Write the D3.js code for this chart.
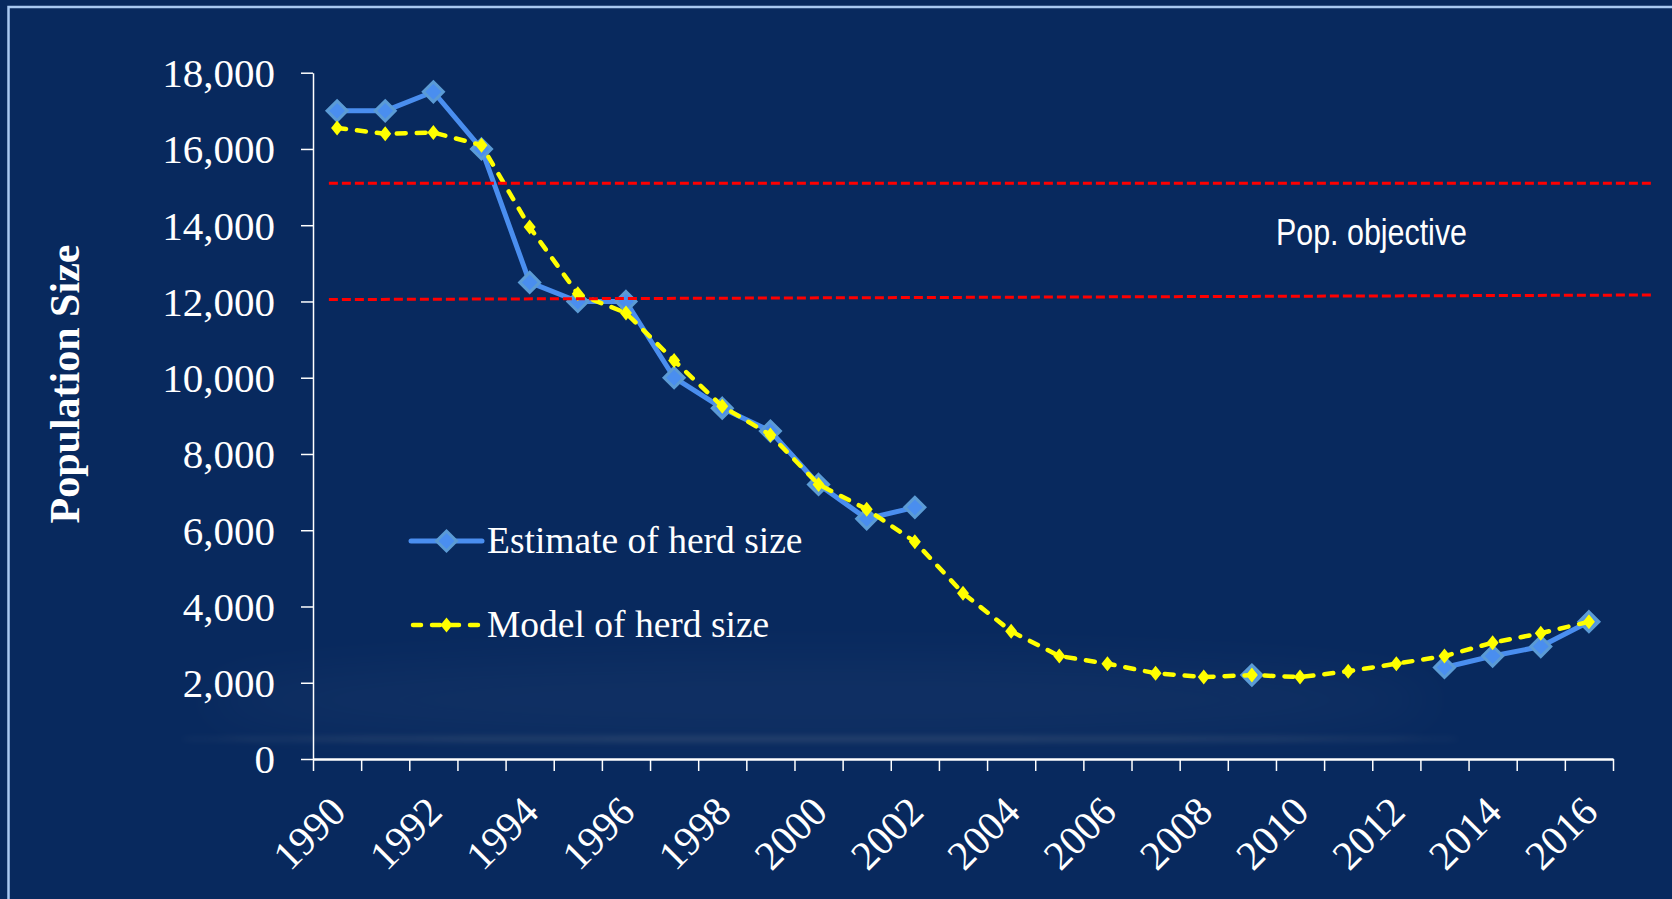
<!DOCTYPE html>
<html>
<head>
<meta charset="utf-8">
<script src="https://cdn.jsdelivr.net/npm/d3@7"></script>
<style>
  body { margin: 0; background: #08295e; }
  svg { display: block; }
</style>
</head>
<body>
<div id="container"></div>
<script>
var width = 1672;
var height = 899;

// data
var years = [1990, 1991, 1992, 1993, 1994, 1995, 1996, 1997, 1998, 1999, 2000, 2001, 2002,
    2003, 2004, 2005, 2006, 2007, 2008, 2009, 2010, 2011, 2012, 2013, 2014, 2015, 2016];
var labelYears = [1990, 1992, 1994, 1996, 1998, 2000, 2002, 2004, 2006, 2008, 2010, 2012, 2014, 2016];
var estimate = [17000, 17000, 17500, 16000, 12500, 12000, 12000, 10000, 9200, 8600, 7200, 6300, 6600,
    null, null, null, null, null, null, 2200, null, null, null, 2400, 2700, 2950, 3600];
var model = [16550, 16400, 16430, 16100, 13950, 12200, 11700, 10450, 9250, 8500, 7200, 6550, 5700,
    4350, 3350, 2700, 2500, 2250, 2150, 2200, 2150, 2300, 2500, 2700, 3050, 3300, 3600];
var yTicks = [0, 2000, 4000, 6000, 8000, 10000, 12000, 14000, 16000, 18000];
// objective band: value at left end, value at right end
var objectiveLines = [[15100, 15100], [12050, 12170]];
var objectiveSpan = [1990.33, 2017.87];
var seriesNames = ["Estimate of herd size", "Model of herd size"];

var svg = d3.select("div#container").append("svg")
    .attr("width", width)
    .attr("height", height);

var defs = svg.append("defs");
defs.append("filter").attr("id", "blur")
    .attr("x", "-10%").attr("y", "-300%").attr("width", "120%").attr("height", "700%")
    .append("feGaussianBlur").attr("stdDeviation", 3);
defs.append("filter").attr("id", "softblur")
    .attr("x", "-20%").attr("y", "-100%").attr("width", "140%").attr("height", "300%")
    .append("feGaussianBlur").attr("stdDeviation", 25);

// background + frame
svg.append("rect").attr("width", width).attr("height", height).attr("fill", "#08295e");
svg.append("ellipse")
    .attr("cx", 820).attr("cy", 700).attr("rx", 620).attr("ry", 40)
    .attr("fill", "#ffffff").attr("opacity", 0.03).attr("filter", "url(#softblur)");
svg.append("ellipse")
    .attr("cx", 820).attr("cy", 739).attr("rx", 640).attr("ry", 2)
    .attr("fill", "#fff2d0").attr("opacity", 0.16).attr("filter", "url(#blur)");
svg.append("path")
    .attr("d", "M8.5," + height + " L8.5,7 L" + width + ",7")
    .attr("fill", "none").attr("stroke", "#a9c9f2").attr("stroke-width", 2.5);

// scales
var x = d3.scaleBand().domain(years).range([313, 1613]);
var xEdge = d3.scaleLinear().domain([1990, 2017]).range([313, 1613]);
var y = d3.scaleLinear().domain([0, 18000]).range([759, 72.7]);

// y axis
var yAxis = d3.axisLeft(y)
    .tickValues(yTicks)
    .tickSize(12)
    .tickSizeOuter(0)
    .tickPadding(26)
    .tickFormat(d3.format(","));

var gy = svg.append("g")
    .attr("transform", "translate(313,0)")
    .call(yAxis);
gy.select(".domain").attr("stroke", "#ffffff").attr("stroke-width", 1.5);
gy.selectAll(".tick line").attr("stroke", "#ffffff").attr("stroke-width", 1.5);
gy.selectAll(".tick text")
    .attr("fill", "#ffffff")
    .attr("dy", "0.34em")
    .style("font-family", "'Liberation Serif', 'Times New Roman', serif")
    .style("font-size", "41px");

// x axis: ticks on category edges, labels on every other year
var xAxis = d3.axisBottom(xEdge)
    .tickValues(years.concat([2017]))
    .tickSize(12)
    .tickSizeOuter(0)
    .tickFormat("");

var gx = svg.append("g")
    .attr("transform", "translate(0,759)")
    .call(xAxis);
gx.select(".domain").attr("stroke", "#ffffff").attr("stroke-width", 2.5);
gx.selectAll(".tick line").attr("stroke", "#ffffff").attr("stroke-width", 1.5);

svg.append("g").selectAll("text")
    .data(labelYears)
    .enter()
    .append("text")
    .attr("transform", function(d) {
        return "translate(" + (x(d) + x.bandwidth() / 2 + 11) + ",814) rotate(-45)";
    })
    .attr("text-anchor", "end")
    .attr("fill", "#ffffff")
    .style("font-family", "'Liberation Serif', 'Times New Roman', serif")
    .style("font-size", "41px")
    .text(function(d) { return d; });

// axis title
svg.append("text")
    .attr("transform", "translate(79,384) rotate(-90)")
    .attr("text-anchor", "middle")
    .attr("fill", "#ffffff")
    .style("font-family", "'Liberation Serif', 'Times New Roman', serif")
    .style("font-weight", "bold")
    .style("font-size", "42px")
    .text("Population Size");

// series
var cx = function(i) { return x(years[i]) + x.bandwidth() / 2; };
var diamond = function(rx, ry) {
    return "M0," + (-ry) + "L" + rx + ",0L0," + ry + "L" + (-rx) + ",0Z";
};

var estLine = d3.line()
    .defined(function(d) { return d !== null; })
    .x(function(d, i) { return cx(i); })
    .y(function(d) { return y(d); });

svg.append("path")
    .datum(estimate)
    .attr("d", estLine)
    .attr("fill", "none")
    .attr("stroke", "#4a8eef")
    .attr("stroke-width", 5)
    .attr("stroke-linejoin", "round");

svg.append("g").selectAll("path")
    .data(estimate.map(function(v, i) { return {v: v, i: i}; }).filter(function(d) { return d.v !== null; }))
    .enter()
    .append("path")
    .attr("transform", function(d) { return "translate(" + cx(d.i) + "," + y(d.v) + ")"; })
    .attr("d", diamond(10, 10))
    .attr("fill", "#4a8eef")
    .attr("stroke", "#5b9bd5")
    .attr("stroke-width", 3);

var modelLine = d3.line()
    .x(function(d, i) { return cx(i); })
    .y(function(d) { return y(d); });

svg.append("path")
    .datum(model)
    .attr("d", modelLine)
    .attr("fill", "none")
    .attr("stroke", "#ffff00")
    .attr("stroke-width", 4.5)
    .attr("stroke-linecap", "round")
    .attr("stroke-dasharray", "9,11");

svg.append("g").selectAll("path")
    .data(model)
    .enter()
    .append("path")
    .attr("transform", function(d, i) { return "translate(" + cx(i) + "," + y(d) + ")"; })
    .attr("d", diamond(6, 7.5))
    .attr("fill", "#ffff00");

// population objective band
var objLine = d3.line()
    .x(function(d) { return d[0]; })
    .y(function(d) { return d[1]; });

svg.append("g").selectAll("path")
    .data(objectiveLines)
    .enter()
    .append("path")
    .attr("d", function(d) {
        return objLine([[xEdge(objectiveSpan[0]), y(d[0])], [xEdge(objectiveSpan[1]), y(d[1])]]);
    })
    .attr("fill", "none")
    .attr("stroke", "#ff0000")
    .attr("stroke-width", 3)
    .attr("stroke-dasharray", "9,4");

svg.append("text")
    .attr("x", 1276)
    .attr("y", 245)
    .attr("fill", "#ffffff")
    .attr("textLength", 191)
    .attr("lengthAdjust", "spacingAndGlyphs")
    .style("font-family", "'Liberation Sans Narrow', 'Liberation Sans', Arial, sans-serif")
    .style("font-size", "36px")
    .text("Pop. objective");

// legend
var legend = svg.append("g").attr("transform", "translate(411,0)");

legend.append("line")
    .attr("x1", 0).attr("x2", 71).attr("y1", 541).attr("y2", 541)
    .attr("stroke", "#4a8eef").attr("stroke-width", 5).attr("stroke-linecap", "round");
legend.append("path")
    .attr("transform", "translate(35.5,541)")
    .attr("d", diamond(10, 10))
    .attr("fill", "#4a8eef").attr("stroke", "#5b9bd5").attr("stroke-width", 3);

legend.append("line")
    .attr("x1", 2).attr("x2", 71).attr("y1", 625).attr("y2", 625)
    .attr("stroke", "#ffff00").attr("stroke-width", 4.5).attr("stroke-linecap", "round")
    .attr("stroke-dasharray", "8,11");
legend.append("path")
    .attr("transform", "translate(35.5,625)")
    .attr("d", diamond(6, 7.5))
    .attr("fill", "#ffff00");

legend.selectAll("text")
    .data(seriesNames)
    .enter()
    .append("text")
    .attr("x", 76)
    .attr("y", function(d, i) { return 553 + i * 84; })
    .attr("fill", "#ffffff")
    .style("font-family", "'Liberation Serif', 'Times New Roman', serif")
    .style("font-size", "37.5px")
    .text(function(d) { return d; });
</script>
</body>
</html>
